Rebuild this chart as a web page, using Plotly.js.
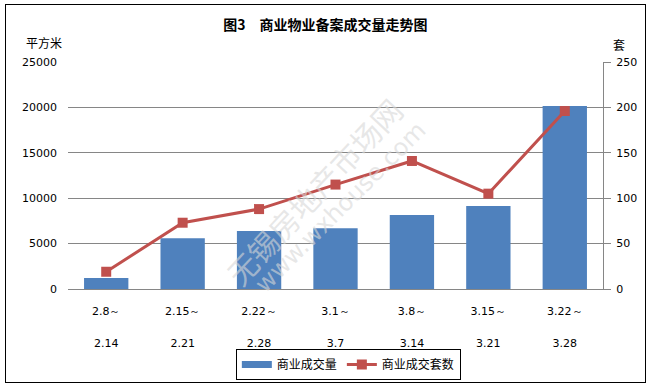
<!DOCTYPE html>
<html>
<head>
<meta charset="utf-8">
<script src="https://cdn.plot.ly/plotly-3.0.1.min.js"></script>
<style>
html,body{margin:0;padding:0;background:#fff;}
#wrap{position:relative;width:651px;height:386px;}
#chart{width:651px;height:386px;}
#frame{position:absolute;left:5px;top:4px;width:639px;height:377px;border:1px solid #000;pointer-events:none;}
</style>
</head>
<body>
<div id="wrap"><div id="chart"></div><div id="frame"></div></div>
<script>
var categories = ["2.8～", "2.15～", "2.22～", "3.1～", "3.8～", "3.15～", "3.22～"];
var categoryEnds = ["2.14", "2.21", "2.28", "3.7", "3.14", "3.21", "3.28"];
var areaValues = [1200, 5600, 6400, 6700, 8150, 9150, 20150];
var unitValues = [19, 73, 88, 115, 141, 105, 196];
var leftTicks = [0, 5000, 10000, 15000, 20000, 25000];
var rightTicks = [0, 50, 100, 150, 200, 250];

var xIdx = categories.map(function(c, i){ return i; });

var bars = {
  type: "bar", name: "商业成交量", x: xIdx, y: areaValues,
  marker: {color: "#4F81BD"}, xaxis: "x", yaxis: "y", hoverinfo: "none", showlegend: false
};
var barLegend = {
  type: "scatter", mode: "lines", name: "商业成交量", x: [null], y: [null],
  line: {color: "#4F81BD", width: 7}, xaxis: "x", yaxis: "y", hoverinfo: "none", showlegend: true
};
var line = {
  type: "scatter", mode: "lines+markers", name: "商业成交套数", x: xIdx, y: unitValues,
  xaxis: "x2", yaxis: "y2", line: {color: "#C0504D", width: 3},
  marker: {symbol: "square", size: 10, color: "#C0504D"}, hoverinfo: "none"
};

var tickFont = {family: "DejaVu Sans, Verdana, sans-serif", size: 11, color: "#000"};
var cjk = "Noto Sans CJK SC, sans-serif";

var layout = {
  width: 651, height: 386,
  margin: {l: 68, r: 48, t: 62, b: 97, autoexpand: false},
  paper_bgcolor: "#fff", plot_bgcolor: "#fff",
  bargap: 0.42,
  showlegend: true,
  title: {text: "<b>图3　商业物业备案成交量走势图</b>", x: 0.5, xanchor: "center", y: 0.935, yanchor: "middle",
          font: {family: cjk, size: 14, color: "#000"}},
  xaxis: {
    range: [-0.5, 6.5], tickmode: "array", tickvals: xIdx, ticktext: categories,
    showgrid: false, zeroline: false, showline: true, linecolor: "#868686", linewidth: 1,
    ticks: "", tickfont: tickFont, ticklabelstandoff: 12, fixedrange: true, automargin: false
  },
  xaxis2: {
    range: [-0.5, 6.5], tickmode: "array", tickvals: xIdx, ticktext: categoryEnds,
    overlaying: "x", side: "bottom", anchor: "y2",
    showgrid: false, zeroline: false, showline: false,
    ticks: "", tickfont: tickFont, ticklabelstandoff: 46, fixedrange: true, automargin: false
  },
  yaxis: {
    range: [0, 25000], tickmode: "array", tickvals: leftTicks, ticktext: leftTicks.map(String),
    showgrid: true, gridcolor: "#868686", gridwidth: 1, zeroline: false, showline: false,
    ticks: "", tickfont: tickFont, ticklabelstandoff: 10, fixedrange: true, automargin: false
  },
  yaxis2: {
    range: [0, 250], tickmode: "array", tickvals: rightTicks, ticktext: rightTicks.map(String),
    overlaying: "y", side: "right", anchor: "x2",
    showgrid: false, zeroline: false, showline: true, linecolor: "#868686", linewidth: 1,
    ticks: "outside", ticklen: 7, tickcolor: "#868686", tickfont: tickFont, ticklabelstandoff: 3, fixedrange: true, automargin: false
  },
  legend: {
    orientation: "h", x: 0.524, xanchor: "center", yref: "container", y: 0.096, yanchor: "top",
    bordercolor: "#000", borderwidth: 1, font: {family: cjk, size: 12, color: "#000"},
    itemwidth: 30, tracegroupgap: 0, traceorder: "normal"
  },
  annotations: [
    {text: "平方米", xref: "paper", yref: "paper", x: -0.045, y: 1.088, xanchor: "center", yanchor: "middle",
     showarrow: false, font: {family: cjk, size: 12, color: "#000"}},
    {text: "套", xref: "paper", yref: "paper", x: 1.03, y: 1.075, xanchor: "center", yanchor: "middle",
     showarrow: false, font: {family: cjk, size: 12, color: "#000"}},
    {text: "无锡房地产市场网", xref: "paper", yref: "paper", x: 0.46, y: 0.43, xanchor: "center", yanchor: "middle",
     textangle: -47, showarrow: false, font: {family: cjk, size: 30, color: "rgba(215,215,215,0.6)"}},
    {text: "www.wxhouse.com", xref: "paper", yref: "paper", x: 0.51, y: 0.36, xanchor: "center", yanchor: "middle",
     textangle: -45, showarrow: false, font: {family: "DejaVu Sans, sans-serif", size: 24, color: "rgba(215,215,215,0.6)"}}
  ]
};

Plotly.newPlot("chart", [bars, barLegend, line], layout, {displayModeBar: false, staticPlot: true});
</script>
</body>
</html>
